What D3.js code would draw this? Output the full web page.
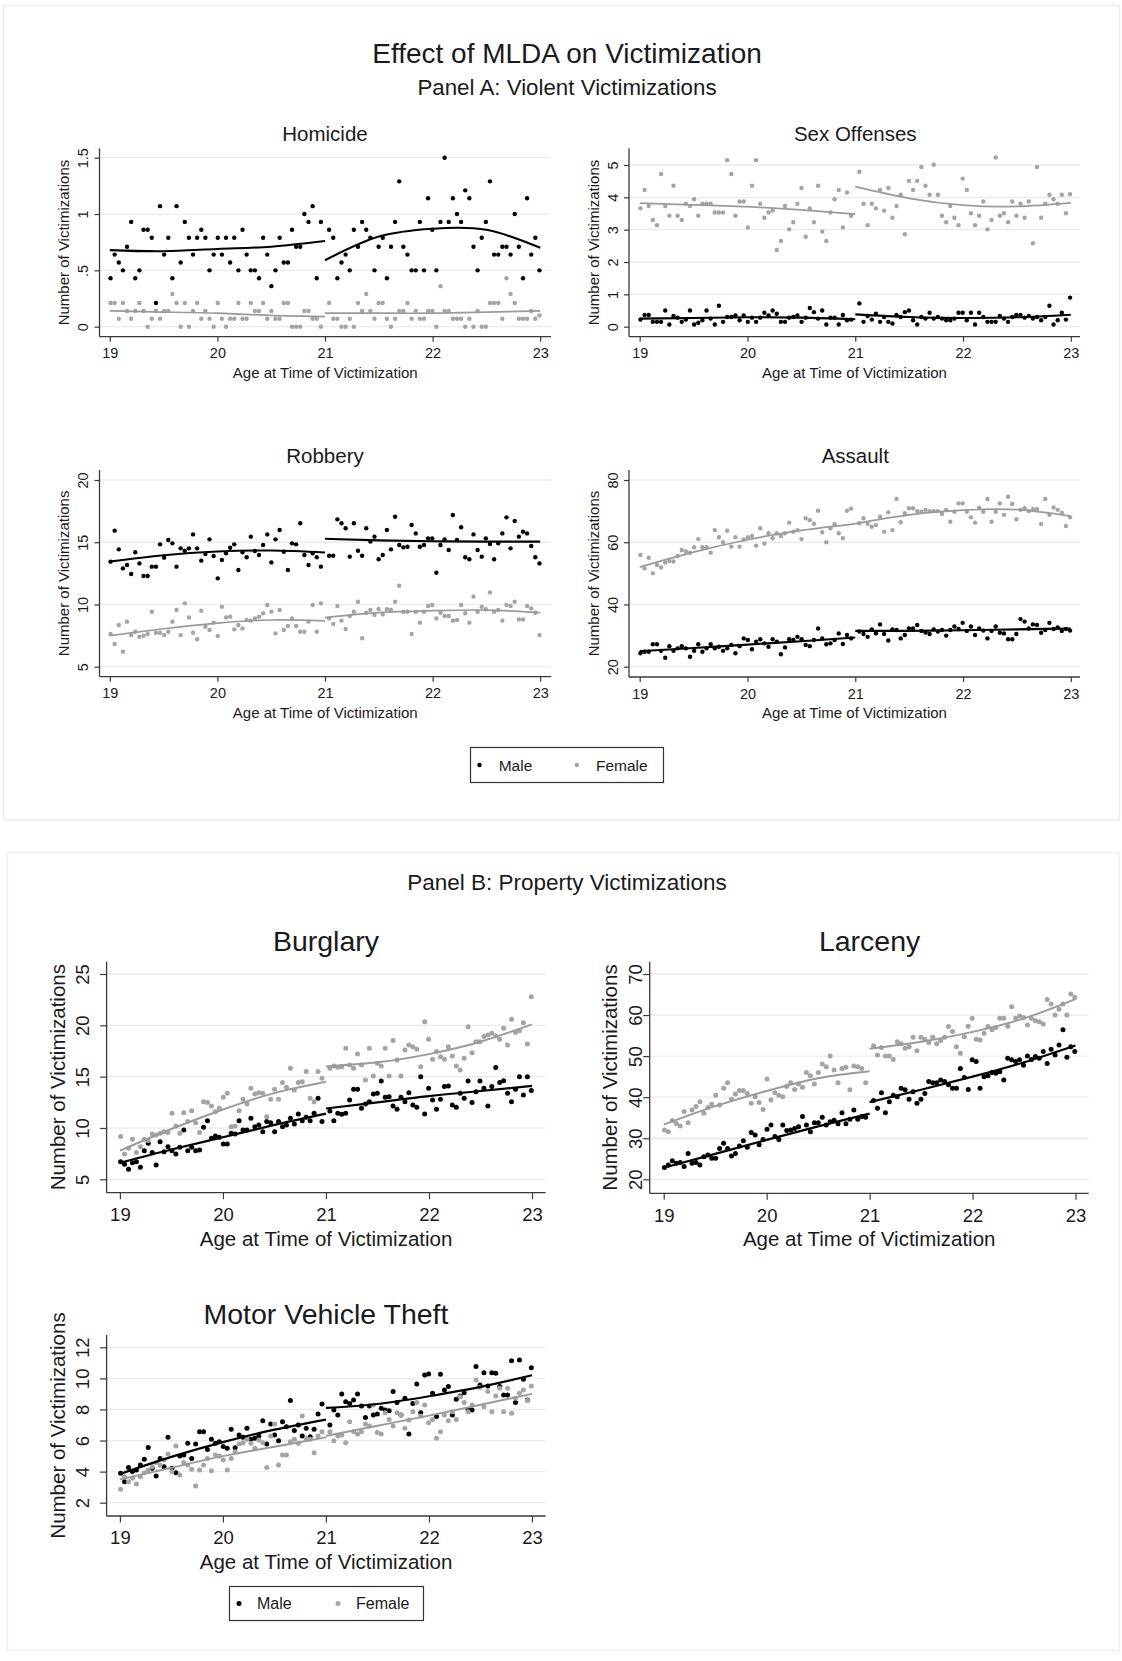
<!DOCTYPE html>
<html>
<head>
<meta charset="utf-8">
<script src="https://cdn.jsdelivr.net/npm/d3@7"></script>
<style>
  body { margin: 0; background: #fff; }
  svg { display: block; }
</style>
</head>
<body>
<svg id="chart" width="1122" height="1661"></svg>
<script>
// ---- Data -------------------------------------------------------------
// 14-day bins, offset in days from the 21st birthday (52 before, 52 after)
const DAYS_FROM_21 = [
  -728,-714,-700,-686,-672,-658,-644,-630,-616,-602,-588,-574,-560,-546,-532,-518,-504,-490,-476,-462,
  -448,-434,-420,-406,-392,-378,-364,-350,-336,-322,-308,-294,-280,-266,-252,-238,-224,-210,-196,-182,
  -168,-154,-140,-126,-112,-98,-84,-70,-56,-42,-28,-14,
  14,28,42,56,70,84,98,112,126,140,154,168,182,196,210,224,238,252,266,280,
  294,308,322,336,350,364,378,392,406,420,434,448,462,476,490,504,518,532,546,560,
  574,588,602,616,630,644,658,672,686,700,714,728
];
const X_TICKS = [19, 20, 21, 22, 23];
const FIT_AGES_PRE = [19, 19.5, 20, 20.5, 21];
const FIT_AGES_POST = [21, 21.5, 22, 22.5, 23];

const HOMICIDE_MALE = [
  .43,.64,.57,.5,.71,.93,.43,.5,.86,.86,.79,.21,1.07,.64,.79,.43,1.07,.57,.93,.79,.64,.79,.86,.79,.5,.64,
  .79,.64,.79,.57,.79,.5,.86,.64,.5,.5,.43,.79,.64,.36,.5,.79,.57,.57,.86,.71,.71,1.0,.93,1.07,.43,.93,
  .86,.79,.43,.57,.64,.5,.86,.71,.93,.86,.79,.5,.71,.79,.43,.71,.93,1.29,.71,.64,.5,.5,.93,.5,1.14,.86,
  .5,.93,1.5,.93,1.14,1.0,.93,1.21,1.14,.71,.5,.79,.93,1.29,.64,.64,.71,.71,.64,1.0,.71,.43,1.14,.64,.79,.5
];
const HOMICIDE_FEMALE = [
  .21,.21,.07,.21,.14,.07,.14,.21,.14,0,.07,.14,.07,.14,.14,.29,.21,0,.21,0,.14,.21,.07,.14,.07,0,
  .21,.07,0,.07,.07,.21,.07,.07,.21,.14,.14,.21,.07,.14,.07,.07,.21,.21,0,0,0,.14,.14,.07,.07,0,
  .21,.07,.07,0,0,.07,0,.21,.14,.29,.14,.07,.21,.21,.07,0,.07,.14,.14,.21,.07,.14,.07,.07,.14,.14,
  0,.36,.14,.14,.07,.07,.07,0,.07,0,.14,0,0,.21,.21,.21,.07,.43,.29,.21,.07,.07,.07,.14,.07,.1
];
const SEX_MALE = [
  .22,.36,.36,.15,.15,.15,.5,.07,.33,.28,.15,.22,.5,.07,.12,.2,.5,.25,.07,.65,.15,.3,.3,.35,.2,.35,
  .15,.28,.15,.28,.43,.35,.5,.4,.15,.15,.28,.3,.35,.15,.28,.58,.45,.25,.5,.07,.28,.28,.07,.36,.2,.22,
  .72,.15,.33,.22,.4,.15,.3,.15,.1,.36,.3,.45,.5,.2,.07,.3,.25,.43,.25,.3,.25,.2,.2,.25,.43,.43,
  .2,.43,.07,.43,.3,.15,.15,.15,.33,.25,.15,.3,.36,.36,.28,.33,.25,.3,.2,.3,.65,.07,.2,.43,.22,.9
];
const SEX_FEMALE = [
  3.66,4.23,3.73,3.3,3.14,4.72,3.73,3.43,4.36,3.43,3.3,3.8,3.73,3.94,3.43,3.8,3.8,3.8,3.53,3.53,3.53,5.15,4.72,3.43,3.87,3.87,
  3.07,4.36,5.15,3.8,3.37,3.53,3.59,2.37,2.65,3.73,3.01,3.23,3.8,4.29,2.78,3.66,3.23,4.36,2.94,2.65,3.53,3.94,4.23,3.07,4.15,3.43,
  4.79,3.8,3.14,3.8,3.66,4.23,3.59,4.29,3.37,3.73,4.08,2.86,4.51,4.23,4.51,4.94,4.36,4.08,5.01,4.08,3.43,3.23,3.73,3.37,3.14,4.58,
  4.23,3.51,3.14,3.43,3.87,3.01,3.3,5.23,3.43,3.51,3.23,3.87,3.43,3.8,3.37,3.87,2.58,4.94,3.37,3.8,4.08,3.94,3.8,4.08,3.51,4.1
];
const ROBBERY_MALE = [
  13.44,15.93,14.43,12.9,13.17,12.45,14.19,13.3,12.29,12.29,13.04,13.04,14.83,13.76,15.18,14.91,13.04,14.51,14.32,14.51,15.63,14.51,13.52,14.05,15.23,13.89,
  12.1,13.57,14.11,14.56,14.83,12.77,14.19,13.79,15.45,14.3,13.97,14.78,15.63,13.38,15.23,15.98,14.24,12.77,14.91,14.83,16.52,13.97,13.17,14.11,13.79,13.04,
  13.92,13.92,16.84,16.52,16.12,13.84,16.52,14.32,13.92,16.12,15.05,15.45,13.63,13.97,15.98,14.43,17.05,14.78,14.59,14.64,16.38,15.71,14.64,14.78,15.31,15.31,
  12.55,14.78,15.23,14.38,17.19,15.18,16.2,13.79,13.63,15.63,14.38,13.84,15.31,14.86,13.63,14.91,15.71,17.0,14.51,16.71,15.45,15.85,15.71,14.7,13.79,13.3
];
const ROBBERY_FEMALE = [
  7.63,6.82,8.35,6.21,8.62,7.54,7.81,7.41,7.49,7.63,9.42,7.73,7.73,7.54,7.81,8.62,9.55,7.54,10.09,8.96,7.73,7.2,9.5,8.21,7.95,8.54,
  7.46,9.82,8.96,9.02,8.0,8.35,8.08,8.75,8.7,8.88,9.02,9.29,9.96,9.42,7.68,9.55,7.95,8.27,8.88,8.27,7.81,7.81,8.62,9.96,7.81,10.09,
  8.88,8.43,9.88,8.7,8.03,9.07,9.42,10.22,7.28,9.34,9.55,9.15,9.63,9.2,9.61,9.55,10.22,11.5,9.42,9.42,7.63,9.42,8.54,9.42,9.88,9.96,
  8.88,9.34,9.07,9.07,8.7,8.75,9.96,9.29,8.54,10.63,9.42,9.82,9.61,10.97,9.42,9.55,8.7,9.96,9.88,10.22,8.8,8.8,9.88,9.69,9.34,7.54
];
const ASSAULT_MALE = [
  24.3,24.8,24.8,27.2,27.2,25.1,22.9,26.6,25.1,25.9,26.6,25.9,23.2,25.1,27.2,24.8,25.9,27.2,25.9,26.4,25.1,25.9,27.0,24.3,26.6,29.1,
  28.6,25.6,28.0,28.8,27.5,26.4,28.8,28.0,24.0,26.2,28.8,28.6,29.6,28.8,27.0,26.6,28.6,32.3,29.1,27.2,27.5,28.6,30.7,27.3,30.2,29.1,
  31.3,30.5,29.6,32.0,30.7,33.6,30.5,28.4,32.0,31.8,29.1,30.2,32.3,32.3,33.4,31.5,31.0,30.5,32.0,31.3,31.8,30.0,31.8,32.9,32.1,34.1,
  31.5,32.9,30.2,32.3,31.6,29.1,31.5,32.9,30.9,30.7,28.8,28.8,30.5,35.3,34.5,32.3,33.6,33.4,30.9,31.8,34.1,32.1,32.6,31.5,32.1,31.6
];
const ASSAULT_FEMALE = [
  55.9,51.6,55.0,50.0,52.7,51.9,53.5,54.0,53.8,55.6,57.5,57.0,56.6,58.4,61.0,58.4,58.4,56.6,63.9,61.6,60.0,63.7,58.6,61.6,58.6,60.9,
  61.6,62.0,58.9,64.5,59.6,62.9,61.3,62.9,62.0,62.9,66.3,63.4,63.9,61.0,67.7,67.1,65.9,70.1,63.2,60.0,64.5,65.8,62.9,61.3,70.1,70.8,
  66.1,67.7,65.9,65.0,65.5,68.2,63.4,69.6,63.9,73.9,66.4,69.3,70.9,70.9,70.0,69.8,70.4,70.0,70.0,70.0,69.1,70.4,66.6,69.8,72.5,72.5,
  69.8,68.0,66.3,71.1,69.8,73.9,66.6,69.8,72.5,68.8,74.6,72.3,67.4,70.4,70.9,70.0,70.6,70.6,65.9,73.9,68.8,71.2,70.4,69.5,65.2,68.0
];
const BURGLARY_MALE = [
  6.72,6.46,5.97,6.62,6.72,6.17,7.79,8.51,7.6,6.4,8.67,7.69,8.18,7.79,7.47,8.12,9.81,7.79,8.12,7.79,7.86,10.06,10.71,8.99,9.22,9.09,
  8.44,8.44,9.48,9.42,10.71,9.81,9.81,10.94,10.13,10.29,9.64,10.62,10.52,9.64,10.62,10.13,10.29,10.94,10.39,11.36,10.71,11.04,10.71,11.43,12.89,10.62,
  11.66,10.71,11.43,11.33,11.43,12.73,13.77,13.77,11.92,12.34,12.56,13.31,13.38,14.58,12.99,13.05,12.14,11.82,12.99,12.56,13.44,12.24,12.01,15.0,11.36,13.86,
  12.73,11.82,12.79,14.03,14.09,12.24,12.01,13.38,12.89,14.58,12.47,13.54,14.58,13.86,12.14,14.03,15.88,14.42,14.61,13.38,12.56,13.77,15.0,13.21,15.0,13.64
];
const BURGLARY_FEMALE = [
  9.16,7.47,8.02,8.9,7.6,8.18,8.9,8.77,9.42,9.32,9.48,9.64,9.55,11.43,10.19,9.48,11.49,10.62,11.69,10.52,9.55,12.56,12.47,12.14,11.59,11.92,
  12.99,13.38,10.13,10.19,11.69,12.79,12.34,13.86,13.31,13.44,13.38,11.1,12.79,13.77,12.79,14.42,13.96,15.81,13.7,14.42,14.51,15.49,12.89,12.56,15.49,14.84,
  15.81,16.04,15.91,15.97,17.76,16.14,15.81,17.21,16.14,14.68,17.76,15.06,16.3,16.04,17.76,15.06,18.51,16.62,15.06,17.6,18.08,17.92,17.66,15.97,20.36,18.64,
  16.69,17.44,16.95,16.69,17.92,17.01,16.04,15.65,16.79,19.87,17.34,18.41,18.41,18.9,19.06,19.22,18.96,18.64,19.71,18.08,20.58,19.29,19.48,20.26,18.18,22.79
];
const LARCENY_MALE = [
  22.9,23.5,24.5,23.9,24.1,23.1,26.3,23.9,24.1,23.5,25.5,25.9,25.1,25.1,27.5,28.8,27.5,25.7,26.3,28.1,29.4,27.8,31.4,30.8,28.4,29.7,
  32.2,33.2,30.4,29.7,33.2,31.9,32.0,32.4,32.8,35.3,33.2,31.6,33.8,33.8,35.1,33.2,34.0,34.4,33.5,36.2,33.5,34.6,36.9,34.6,35.3,35.1,
  39.2,37.3,41.1,36.2,38.9,40.5,40.1,42.2,41.8,39.5,41.3,38.5,39.5,40.9,43.8,43.5,43.5,44.2,43.8,43.0,42.2,42.2,47.0,44.8,41.9,49.1,
  48.7,42.2,45.0,45.2,46.0,45.8,46.2,44.2,49.5,49.1,48.7,49.1,47.8,50.0,49.2,49.9,49.5,51.1,48.2,51.7,50.3,52.7,56.4,49.7,52.3,51.1
];
const LARCENY_FEMALE = [
  32.0,31.6,34.3,33.6,33.0,36.5,33.8,36.9,37.7,38.9,36.1,37.5,38.3,40.5,38.1,42.2,43.5,39.5,40.8,41.6,41.6,40.9,38.5,40.1,38.7,37.0,
  44.4,39.3,41.1,40.5,40.1,42.6,43.5,41.9,43.2,42.4,46.0,45.2,43.2,46.0,48.1,47.4,50.0,46.6,43.5,47.0,47.3,41.8,47.6,47.4,47.0,43.5,
  52.5,50.3,52.1,50.0,50.0,49.2,53.5,53.0,51.9,52.3,54.6,51.3,54.6,54.1,53.3,54.6,53.0,53.8,54.6,57.2,56.0,52.3,50.7,54.7,57.3,59.2,
  54.1,53.9,55.6,57.2,56.4,57.0,59.2,59.2,57.3,62.0,59.2,59.8,59.4,57.6,59.2,58.6,58.4,57.8,63.8,62.7,60.0,61.4,62.7,60.0,65.1,64.3
];
const MVT_MALE = [
  3.89,3.35,4.27,4.0,4.1,4.42,4.79,5.56,4.21,3.72,4.85,4.32,6.21,4.21,3.93,5.0,5.07,5.82,4.85,5.78,6.57,6.57,5.43,6.08,5.82,5.93,
  5.61,5.5,6.72,5.54,6.36,6.21,6.79,6.08,6.14,6.29,7.28,5.78,7.06,6.36,5.99,7.21,6.89,8.57,6.64,7.0,6.29,6.79,6.25,6.72,7.71,8.35,
  7.0,7.97,7.64,9.0,8.5,8.39,8.61,9.0,8.22,7.49,8.22,7.64,7.71,8.07,7.97,7.92,9.15,8.44,7.64,8.72,6.42,8.39,9.64,7.79,10.22,10.28,
  9.04,7.54,10.26,9.25,9.47,7.64,8.65,8.87,9.08,7.97,7.97,10.76,9.58,10.37,9.51,10.37,10.33,9.47,8.93,8.93,11.14,8.44,11.18,9.94,8.61,10.69
];
const MVT_FEMALE = [
  2.86,3.67,3.35,3.57,3.2,3.67,3.93,4.1,4.32,4.58,4.42,4.75,5.13,4.0,5.65,3.78,4.58,4.42,4.15,3.07,4.1,4.42,4.85,4.06,5.07,5.0,
  4.75,4.1,4.85,5.28,5.78,5.86,6.08,5.82,5.5,6.03,5.86,4.27,6.29,7.06,4.42,5.07,5.07,5.93,6.08,5.82,7.58,6.14,6.08,5.22,6.29,6.57,
  6.57,5.99,6.29,6.36,5.86,7.21,6.57,6.42,6.57,7.06,6.94,8.29,6.51,6.42,7.79,7.36,6.94,7.79,7.64,6.79,7.32,7.86,8.44,7.58,8.29,7.15,
  7.36,6.14,6.57,7.64,7.28,7.86,7.36,8.82,8.44,7.86,8.29,9.9,9.42,8.18,9.15,7.86,8.87,9.36,7.86,9.36,7.75,8.72,9.04,9.25,8.57,9.51
];

// Fitted curves on each side of age 21, sampled at FIT_AGES_PRE / FIT_AGES_POST
const FIT_HOMICIDE_MALE   = { pre: [0.68, 0.67, 0.69, 0.71, 0.76], post: [0.59, 0.80, 0.87, 0.86, 0.70] };
const FIT_HOMICIDE_FEMALE = { pre: [0.14, 0.13, 0.12, 0.10, 0.09], post: [0.12, 0.12, 0.12, 0.13, 0.14] };
const FIT_SEX_MALE        = { pre: [0.25, 0.27, 0.29, 0.28, 0.23], post: [0.38, 0.30, 0.27, 0.29, 0.37] };
const FIT_SEX_FEMALE      = { pre: [3.82, 3.77, 3.71, 3.61, 3.48], post: [4.33, 3.97, 3.76, 3.72, 3.83] };
const FIT_ROBBERY_MALE    = { pre: [13.45, 13.95, 14.25, 14.33, 14.18], post: [15.28, 15.15, 15.08, 15.05, 15.05] };
const FIT_ROBBERY_FEMALE  = { pre: [7.5, 8.05, 8.5, 8.75, 8.68], post: [8.95, 9.35, 9.5, 9.55, 9.35] };
const FIT_ASSAULT_MALE    = { pre: [25.0, 26.0, 27.1, 28.2, 29.4], post: [31.5, 31.5, 31.7, 32.0, 32.3] };
const FIT_ASSAULT_FEMALE  = { pre: [52.0, 56.8, 60.8, 63.8, 65.9], post: [66.0, 68.8, 70.3, 70.5, 68.4] };
const FIT_BURGLARY_MALE   = { pre: [6.6, 7.9, 9.1, 10.3, 11.4], post: [11.9, 12.5, 13.1, 13.6, 14.1] };
const FIT_BURGLARY_FEMALE = { pre: [7.8, 9.9, 11.8, 13.4, 14.5], post: [16.0, 16.4, 17.2, 18.4, 20.1] };
const FIT_LARCENY_MALE    = { pre: [22.8, 26.2, 29.6, 32.9, 36.0], post: [38.8, 41.8, 45.0, 48.5, 52.6] };
const FIT_LARCENY_FEMALE  = { pre: [33.3, 37.8, 41.5, 44.6, 46.3], post: [51.8, 53.5, 55.9, 59.2, 63.9] };
const FIT_MVT_MALE        = { pre: [3.85, 4.95, 5.9, 6.7, 7.35], post: [8.1, 8.35, 8.85, 9.45, 10.2] };
const FIT_MVT_FEMALE      = { pre: [3.5, 4.25, 5.0, 5.6, 6.2], post: [6.3, 6.95, 7.6, 8.3, 9.0] };

const Y_TICKS_HOMICIDE = [0, 0.5, 1, 1.5];
const Y_LABELS_HOMICIDE = ["0", ".5", "1", "1.5"];
const Y_TICKS_SEX = [0, 1, 2, 3, 4, 5];
const Y_TICKS_ROBBERY = [5, 10, 15, 20];
const Y_TICKS_ASSAULT = [20, 40, 60, 80];
const Y_TICKS_BURGLARY = [5, 10, 15, 20, 25];
const Y_TICKS_LARCENY = [20, 30, 40, 50, 60, 70];
const Y_TICKS_MVT = [2, 4, 6, 8, 10, 12];

const LEGEND_LABELS = ["Male", "Female"];

// ---- Styling ----------------------------------------------------------
const FONT = '"Liberation Sans", Arial, Helvetica, sans-serif';
const TEXT = "#1a1a1a";
const AXIS = "#3a3a3a";
const GRID = "#ebebeb";
const MALE_COLOR = "#000000";
const FEMALE_DOT = "#a4a4a4";
const FEMALE_LINE = "#9a9a9a";

const STYLE_A = { tickFont: 14.5, tick: 5, titleFont: 20.5, titleGap: 7.5, axisTitleFont: 15,
                  xLabelDy: 16.6, xTitleDy: 35.5, r: 2.2, maleW: 2.1, femaleW: 1.7 };
const STYLE_B = { tickFont: 18.5, tick: 6.5, titleFont: 28.5, titleGap: 11, axisTitleFont: 20.5,
                  xLabelDy: 21.8, xTitleDy: 45.3, r: 2.5, maleW: 2.2, femaleW: 1.9 };

const svg = d3.select("#chart");
const ages = DAYS_FROM_21.map(d => 21 + d / 365.25);

function drawPanel(p, st) {
  const x = d3.scaleLinear().domain([19, 23]).range([p.x0, p.x1]);
  const y = d3.scaleLinear()
    .domain([p.yTicks[0], p.yTicks[p.yTicks.length - 1]])
    .range([p.yLo, p.yHi]);
  const g = svg.append("g");

  // horizontal grid
  g.append("g").selectAll("line").data(p.yTicks).join("line")
    .attr("x1", p.axisX).attr("x2", p.right)
    .attr("y1", d => y(d)).attr("y2", d => y(d))
    .attr("stroke", GRID).attr("stroke-width", 1.3);

  // y axis
  const labels = p.yLabels || p.yTicks.map(String);
  const ya = g.append("g")
    .attr("transform", `translate(${p.axisX},0)`)
    .call(d3.axisLeft(y).tickValues(p.yTicks)
      .tickFormat((d, i) => labels[i]).tickSize(st.tick).tickSizeOuter(0))
    .attr("font-family", FONT).attr("font-size", st.tickFont);
  ya.select(".domain").remove();
  ya.selectAll(".tick line").attr("stroke", AXIS).attr("stroke-width", 1.2);
  ya.selectAll(".tick text")
    .attr("x", null).attr("dy", null)
    .attr("transform", `translate(${-p.yLabelOff},0) rotate(-90)`)
    .attr("text-anchor", "middle").attr("dominant-baseline", "central")
    .attr("fill", TEXT);

  // x axis
  const xa = g.append("g")
    .attr("transform", `translate(0,${p.bottom})`)
    .call(d3.axisBottom(x).tickValues(X_TICKS).tickFormat(d3.format("d"))
      .tickSize(st.tick).tickSizeOuter(0))
    .attr("font-family", FONT).attr("font-size", st.tickFont);
  xa.select(".domain").remove();
  xa.selectAll(".tick line").attr("stroke", AXIS).attr("stroke-width", 1.2);
  xa.selectAll(".tick text")
    .attr("y", st.xLabelDy).attr("dy", null)
    .attr("dominant-baseline", "central").attr("fill", TEXT);

  // axis lines
  g.append("line").attr("x1", p.axisX).attr("x2", p.axisX)
    .attr("y1", p.top).attr("y2", p.bottom)
    .attr("stroke", AXIS).attr("stroke-width", 1.3);
  g.append("line").attr("x1", p.axisX).attr("x2", p.right)
    .attr("y1", p.bottom).attr("y2", p.bottom)
    .attr("stroke", AXIS).attr("stroke-width", 1.3);

  // titles
  g.append("text")
    .attr("x", (p.x0 + p.x1) / 2).attr("y", p.top - st.titleGap)
    .attr("text-anchor", "middle").attr("font-family", FONT)
    .attr("font-size", st.titleFont).attr("fill", TEXT).text(p.title);
  g.append("text")
    .attr("transform", `translate(${p.axisX - p.yTitleOff},${(p.top + p.bottom) / 2}) rotate(-90)`)
    .attr("text-anchor", "middle").attr("dominant-baseline", "central")
    .attr("font-family", FONT).attr("font-size", st.axisTitleFont).attr("fill", TEXT)
    .text("Number of Victimizations");
  g.append("text")
    .attr("x", (p.axisX + p.right) / 2).attr("y", p.bottom + st.xTitleDy)
    .attr("text-anchor", "middle").attr("dominant-baseline", "central")
    .attr("font-family", FONT).attr("font-size", st.axisTitleFont).attr("fill", TEXT)
    .text("Age at Time of Victimization");

  // scatter
  const pts = (vals) => vals.map((v, i) => ({ age: ages[i], v }));
  g.append("g").selectAll("circle").data(pts(p.male)).join("circle")
    .attr("cx", d => x(d.age)).attr("cy", d => y(d.v)).attr("r", st.r)
    .attr("fill", MALE_COLOR);
  g.append("g").selectAll("circle").data(pts(p.female)).join("circle")
    .attr("cx", d => x(d.age)).attr("cy", d => y(d.v)).attr("r", st.r)
    .attr("fill", FEMALE_DOT);

  // fitted curves
  const line = d3.line().x(d => x(d[0])).y(d => y(d[1])).curve(d3.curveNatural);
  const seg = (agesArr, vals) => agesArr.map((a, i) => [a, vals[i]]);
  [[p.maleFit, MALE_COLOR, st.maleW], [p.femaleFit, FEMALE_LINE, st.femaleW]].forEach(([fit, col, w]) => {
    [seg(FIT_AGES_PRE, fit.pre), seg(FIT_AGES_POST, fit.post)].forEach(s => {
      g.append("path").attr("d", line(s)).attr("fill", "none")
        .attr("stroke", col).attr("stroke-width", w);
    });
  });
}

function drawLegend(box, items, fontSize, r) {
  const g = svg.append("g");
  g.append("rect").attr("x", box.x).attr("y", box.y).attr("width", box.w).attr("height", box.h)
    .attr("fill", "#fff").attr("stroke", "#333").attr("stroke-width", 1.2);
  items.forEach(it => {
    g.append("circle").attr("cx", it.dotX).attr("cy", box.y + box.h / 2).attr("r", r).attr("fill", it.color);
    g.append("text").attr("x", it.textX).attr("y", box.y + box.h / 2)
      .attr("dominant-baseline", "central").attr("font-family", FONT)
      .attr("font-size", fontSize).attr("fill", TEXT).text(it.label);
  });
}

// ---- Region frames -----------------------------------------------------
svg.append("rect").attr("x", 3.5).attr("y", 5.5).attr("width", 1116).attr("height", 814.5)
  .attr("fill", "none").attr("stroke", "#ececec").attr("stroke-width", 1.5);
svg.append("rect").attr("x", 7.5).attr("y", 852.5).attr("width", 1112).attr("height", 798)
  .attr("fill", "none").attr("stroke", "#efefef").attr("stroke-width", 1.5);

// ---- Headings ---------------------------------------------------------
svg.append("text").attr("x", 567).attr("y", 63.3).attr("text-anchor", "middle")
  .attr("font-family", FONT).attr("font-size", 28).attr("fill", TEXT)
  .text("Effect of MLDA on Victimization");
svg.append("text").attr("x", 567).attr("y", 94.5).attr("text-anchor", "middle")
  .attr("font-family", FONT).attr("font-size", 22.3).attr("fill", TEXT)
  .text("Panel A: Violent Victimizations");
svg.append("text").attr("x", 567).attr("y", 890).attr("text-anchor", "middle")
  .attr("font-family", FONT).attr("font-size", 22.5).attr("fill", TEXT)
  .text("Panel B: Property Victimizations");

// ---- Panel A ----------------------------------------------------------
const colL = { axisX: 99.5, x0: 109.8, x1: 540.2, right: 551, yLabelOff: 17, yTitleOff: 36.5 };
const colR = { axisX: 629, x0: 639.7, x1: 1070.8, right: 1080, yLabelOff: 16.5, yTitleOff: 36 };
const rowA1 = { top: 148.3, bottom: 336.7 };
const rowA2 = { top: 470, bottom: 676.7 };

drawPanel({ ...colL, ...rowA1, title: "Homicide", yTicks: Y_TICKS_HOMICIDE, yLabels: Y_LABELS_HOMICIDE,
  yLo: 326.7, yHi: 157.7, male: HOMICIDE_MALE, female: HOMICIDE_FEMALE,
  maleFit: FIT_HOMICIDE_MALE, femaleFit: FIT_HOMICIDE_FEMALE }, STYLE_A);
drawPanel({ ...colR, ...rowA1, title: "Sex Offenses", yTicks: Y_TICKS_SEX,
  yLo: 326.7, yHi: 165, male: SEX_MALE, female: SEX_FEMALE,
  maleFit: FIT_SEX_MALE, femaleFit: FIT_SEX_FEMALE }, STYLE_A);
drawPanel({ ...colL, ...rowA2, title: "Robbery", yTicks: Y_TICKS_ROBBERY,
  yLo: 666.7, yHi: 480, male: ROBBERY_MALE, female: ROBBERY_FEMALE,
  maleFit: FIT_ROBBERY_MALE, femaleFit: FIT_ROBBERY_FEMALE }, STYLE_A);
drawPanel({ ...colR, ...rowA2, bottom: 677, title: "Assault", yTicks: Y_TICKS_ASSAULT,
  yLo: 666.7, yHi: 480, male: ASSAULT_MALE, female: ASSAULT_FEMALE,
  maleFit: FIT_ASSAULT_MALE, femaleFit: FIT_ASSAULT_FEMALE }, STYLE_A);

drawLegend({ x: 470.5, y: 747.5, w: 193, h: 35 }, [
  { label: LEGEND_LABELS[0], color: MALE_COLOR, dotX: 479.5, textX: 498.7 },
  { label: LEGEND_LABELS[1], color: FEMALE_DOT, dotX: 576.8, textX: 596 }
], 15.5, 2.2);

// ---- Panel B ----------------------------------------------------------
const colBL = { axisX: 106.6, x0: 119.9, x1: 532, right: 545.6, yLabelOff: 24.3, yTitleOff: 49.4 };
const colBR = { axisX: 649.7, x0: 663.7, x1: 1075.5, right: 1088.7, yLabelOff: 14.5, yTitleOff: 40.4 };

drawPanel({ ...colBL, top: 961.7, bottom: 1192.7, title: "Burglary", yTicks: Y_TICKS_BURGLARY,
  yLo: 1179.3, yHi: 974, male: BURGLARY_MALE, female: BURGLARY_FEMALE,
  maleFit: FIT_BURGLARY_MALE, femaleFit: FIT_BURGLARY_FEMALE }, STYLE_B);
drawPanel({ ...colBR, top: 961.7, bottom: 1193.3, title: "Larceny", yTicks: Y_TICKS_LARCENY,
  yLo: 1179.3, yHi: 974, male: LARCENY_MALE, female: LARCENY_FEMALE,
  maleFit: FIT_LARCENY_MALE, femaleFit: FIT_LARCENY_FEMALE }, STYLE_B);
drawPanel({ ...colBL, top: 1335, bottom: 1516, title: "Motor Vehicle Theft", yTicks: Y_TICKS_MVT,
  yLo: 1502.7, yHi: 1347.3, male: MVT_MALE, female: MVT_FEMALE,
  maleFit: FIT_MVT_MALE, femaleFit: FIT_MVT_FEMALE }, STYLE_B);

drawLegend({ x: 229.5, y: 1586.5, w: 194, h: 34 }, [
  { label: LEGEND_LABELS[0], color: MALE_COLOR, dotX: 239, textX: 257 },
  { label: LEGEND_LABELS[1], color: FEMALE_DOT, dotX: 338, textX: 356 }
], 16, 2.5);
</script>
</body>
</html>
